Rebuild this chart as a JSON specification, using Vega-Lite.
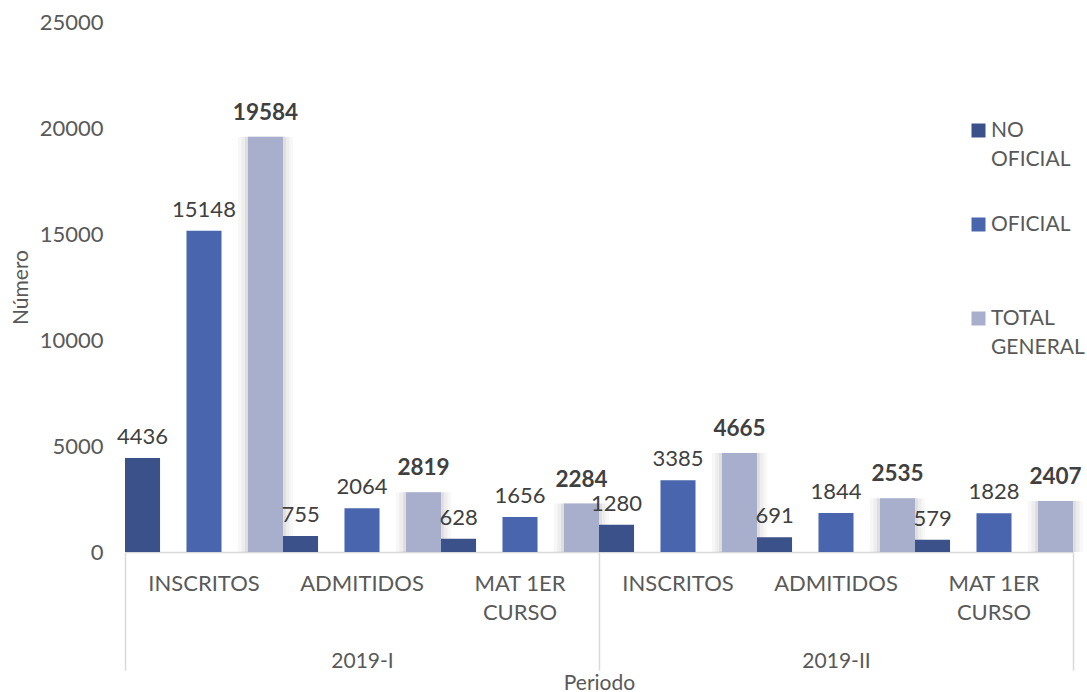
{
  "$schema": "https://vega.github.io/schema/vega-lite/v6.json",
  "autosize": "none",
  "padding": {"left": 125, "top": 22, "right": 14, "bottom": 140},
  "width": 948,
  "height": 530,
  "background": "white",
  "config": {
    "view": {"stroke": null},
    "font": "Lato",
    "style": {"guide-label": {"lineHeight": 29}},
    "axis": {"labelFont": "Lato", "titleFont": "Lato", "labelColor": "#595959", "titleColor": "#595959", "labelFontSize": 22, "titleFontSize": 21, "titleFontWeight": "normal", "grid": false},
    "legend": {"labelFont": "Lato", "labelColor": "#595959", "labelFontSize": 21}
  },
  "data": {"values": [
    {"periodo": "2019-I", "grupo": "2019-I|INSCRITOS", "serie": "NO OFICIAL", "valor": 4436},
    {"periodo": "2019-I", "grupo": "2019-I|INSCRITOS", "serie": "OFICIAL", "valor": 15148},
    {"periodo": "2019-I", "grupo": "2019-I|INSCRITOS", "serie": "TOTAL GENERAL", "valor": 19584},
    {"periodo": "2019-I", "grupo": "2019-I|ADMITIDOS", "serie": "NO OFICIAL", "valor": 755},
    {"periodo": "2019-I", "grupo": "2019-I|ADMITIDOS", "serie": "OFICIAL", "valor": 2064},
    {"periodo": "2019-I", "grupo": "2019-I|ADMITIDOS", "serie": "TOTAL GENERAL", "valor": 2819},
    {"periodo": "2019-I", "grupo": "2019-I|MAT 1ER|CURSO", "serie": "NO OFICIAL", "valor": 628},
    {"periodo": "2019-I", "grupo": "2019-I|MAT 1ER|CURSO", "serie": "OFICIAL", "valor": 1656},
    {"periodo": "2019-I", "grupo": "2019-I|MAT 1ER|CURSO", "serie": "TOTAL GENERAL", "valor": 2284},
    {"periodo": "2019-II", "grupo": "2019-II|INSCRITOS", "serie": "NO OFICIAL", "valor": 1280},
    {"periodo": "2019-II", "grupo": "2019-II|INSCRITOS", "serie": "OFICIAL", "valor": 3385},
    {"periodo": "2019-II", "grupo": "2019-II|INSCRITOS", "serie": "TOTAL GENERAL", "valor": 4665},
    {"periodo": "2019-II", "grupo": "2019-II|ADMITIDOS", "serie": "NO OFICIAL", "valor": 691},
    {"periodo": "2019-II", "grupo": "2019-II|ADMITIDOS", "serie": "OFICIAL", "valor": 1844},
    {"periodo": "2019-II", "grupo": "2019-II|ADMITIDOS", "serie": "TOTAL GENERAL", "valor": 2535},
    {"periodo": "2019-II", "grupo": "2019-II|MAT 1ER|CURSO", "serie": "NO OFICIAL", "valor": 579},
    {"periodo": "2019-II", "grupo": "2019-II|MAT 1ER|CURSO", "serie": "OFICIAL", "valor": 1828},
    {"periodo": "2019-II", "grupo": "2019-II|MAT 1ER|CURSO", "serie": "TOTAL GENERAL", "valor": 2407}
  ]},
  "layer": [
    {
      "encoding": {
        "x": {"field": "grupo", "type": "nominal", "sort": null,
              "scale": {"paddingInner": 0, "paddingOuter": 0},
              "axis": {"orient": "bottom", "title": null, "labelExpr": "slice(split(datum.value, '|'), 1)", "labelAngle": 0, "ticks": false, "tickSize": 0, "labelPadding": 21, "labelLineHeight": 29, "labelBaseline": "top", "domain": true, "domainColor": "#d9d9d9", "domainWidth": 1.5}},
        "xOffset": {"field": "serie", "type": "nominal", "sort": ["NO OFICIAL", "OFICIAL", "TOTAL GENERAL"],
              "scale": {"paddingInner": 0.43, "paddingOuter": 0}},
        "y": {"field": "valor", "type": "quantitative",
              "scale": {"domain": [0, 25000], "nice": false},
              "axis": {"title": "Número", "values": [0, 5000, 10000, 15000, 20000, 25000], "format": "d", "domain": false, "ticks": false, "tickSize": 0, "labelPadding": 22, "titlePadding": 8}}
      },
      "layer": [
        {
          "transform": [{"filter": "datum.serie == 'TOTAL GENERAL'"}],
          "mark": {"type": "bar", "width": 55, "xOffset": 6, "color": "#000000", "opacity": 0.03}
        },
        {
          "transform": [{"filter": "datum.serie == 'TOTAL GENERAL'"}],
          "mark": {"type": "bar", "width": 48, "xOffset": 5, "color": "#000000", "opacity": 0.04}
        },
        {
          "transform": [{"filter": "datum.serie == 'TOTAL GENERAL'"}],
          "mark": {"type": "bar", "width": 41, "xOffset": 4, "color": "#000000", "opacity": 0.06}
        },
        {
          "mark": {"type": "bar"},
          "encoding": {
            "color": {"field": "serie", "type": "nominal",
              "scale": {"domain": ["NO OFICIAL", "OFICIAL", "TOTAL GENERAL"], "range": ["#3b5189", "#4865ae", "#a7afcc"]},
              "legend": {"title": null, "orient": "none", "legendX": 843, "legendY": 98, "symbolType": "square", "symbolSize": 196, "symbolStrokeWidth": 0, "labelOffset": 2, "labelBaseline": "middle", "rowPadding": 43,
                "labelExpr": "datum.label == 'NO OFICIAL' ? ['NO', 'OFICIAL'] : datum.label == 'OFICIAL' ? ['OFICIAL', ''] : ['TOTAL', 'GENERAL']"}}
          }
        },
        {
          "transform": [{"filter": "datum.serie != 'TOTAL GENERAL'"}],
          "mark": {"type": "text", "baseline": "bottom", "dy": -9, "fontSize": 22, "color": "#404040", "font": "Lato"},
          "encoding": {"text": {"field": "valor", "type": "quantitative", "format": "d"}}
        },
        {
          "transform": [{"filter": "datum.serie == 'TOTAL GENERAL'"}],
          "mark": {"type": "text", "baseline": "bottom", "dy": -12, "fontSize": 22.5, "fontWeight": "bold", "color": "#404040", "font": "Lato"},
          "encoding": {"text": {"field": "valor", "type": "quantitative", "format": "d"}}
        }
      ]
    },
    {
      "mark": {"type": "rule", "opacity": 0},
      "encoding": {
        "x": {"field": "periodo", "type": "nominal", "sort": null,
              "scale": {"paddingInner": 0, "paddingOuter": 0},
              "axis": {"orient": "bottom", "title": "Periodo", "labelAngle": 0, "domain": false, "ticks": true, "tickBand": "extent", "tickSize": 118, "tickColor": "#d9d9d9", "tickWidth": 1.5, "labelPadding": -20, "labelFontSize": 21, "titlePadding": 1}}
      }
    }
  ],
  "resolve": {"scale": {"x": "independent"}, "axis": {"x": "independent"}}
}
